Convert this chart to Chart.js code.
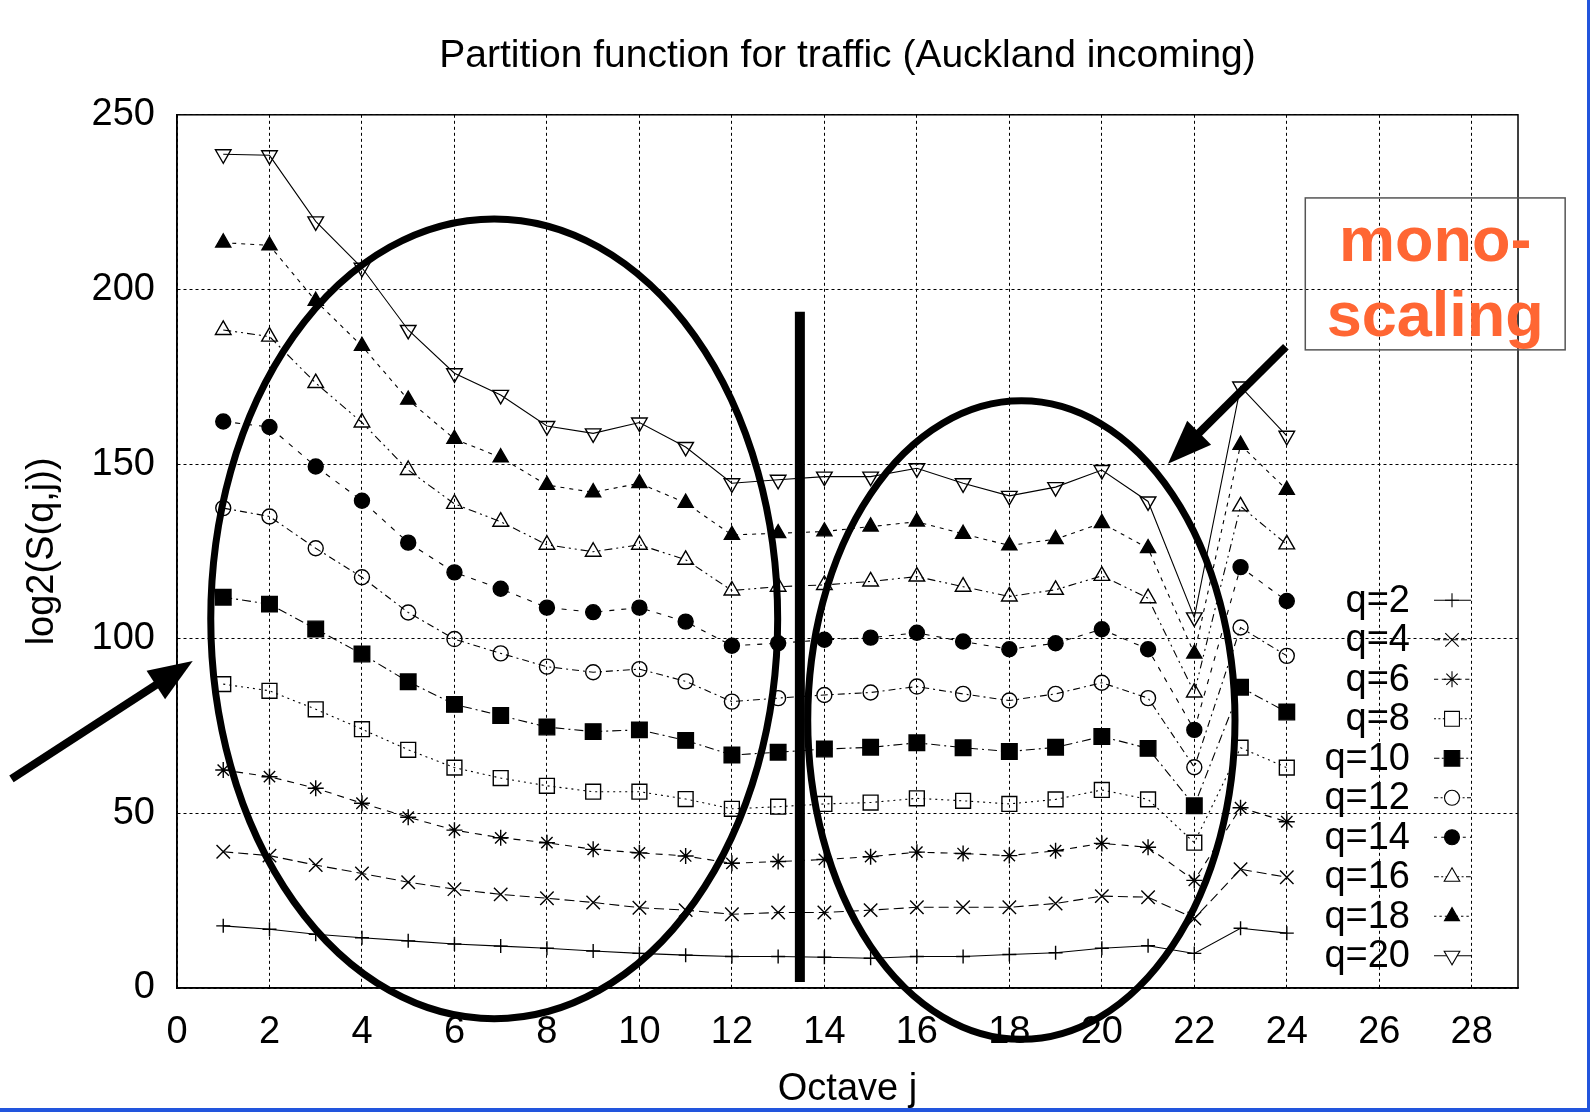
<!DOCTYPE html>
<html>
<head>
<meta charset="utf-8">
<title>Partition function for traffic (Auckland incoming)</title>
<script src="https://cdn.jsdelivr.net/npm/chart.js@4.4.1/dist/chart.umd.min.js"></script>
<style>
html, body { margin: 0; padding: 0; background: #fff; }
#wrap { position: relative; width: 1590px; height: 1112px; }
</style>
</head>
<body>
<div id="wrap"><canvas id="chart"></canvas></div>
<script>
// values
const octave = [1, 2, 3, 4, 5, 6, 7, 8, 9, 10, 11, 12, 13, 14, 15, 16, 17, 18, 19, 20, 21, 22, 23, 24];
const q2  = [17.8, 16.8, 15.4, 14.4, 13.5, 12.6, 12.0, 11.4, 10.6, 9.9, 9.4, 9.0, 9.0, 8.8, 8.5, 9.0, 9.0, 9.6, 10.1, 11.4, 12.1, 9.9, 17.1, 15.7];
const q4  = [39.0, 37.9, 35.2, 32.8, 30.3, 28.3, 26.8, 25.7, 24.5, 23.0, 22.3, 21.1, 21.6, 21.6, 22.3, 23.1, 23.1, 23.1, 24.2, 26.3, 26.0, 19.9, 34.0, 31.7];
const q6  = [62.4, 60.5, 57.2, 52.9, 48.9, 45.2, 43.0, 41.6, 39.7, 38.7, 37.8, 35.7, 36.2, 36.8, 37.6, 38.9, 38.5, 37.9, 39.3, 41.4, 40.3, 30.8, 51.6, 47.6];
const q8  = [87.0, 85.1, 79.8, 74.1, 68.2, 63.1, 60.1, 57.9, 56.2, 56.2, 54.1, 51.3, 51.9, 52.7, 53.1, 54.3, 53.6, 52.7, 54.0, 56.7, 54.0, 41.6, 68.8, 63.1];
const q10 = [111.9, 109.9, 102.8, 95.6, 87.7, 81.2, 78.0, 74.7, 73.4, 73.9, 70.9, 66.7, 67.5, 68.4, 68.9, 70.2, 68.8, 67.7, 68.9, 72.0, 68.6, 52.2, 86.1, 79.0];
const q12 = [137.4, 135.0, 125.9, 117.6, 107.5, 99.9, 95.8, 92.0, 90.4, 91.3, 87.8, 82.0, 83.0, 83.9, 84.6, 86.3, 84.2, 82.3, 84.2, 87.4, 83.0, 63.2, 103.2, 95.1];
const q14 = [162.2, 160.6, 149.3, 139.5, 127.5, 119.0, 114.3, 108.9, 107.6, 108.9, 104.9, 98.0, 98.7, 99.7, 100.3, 101.7, 99.2, 97.0, 98.7, 102.7, 97.0, 73.9, 120.5, 110.8];
const q16 = [188.4, 186.5, 173.2, 161.9, 148.3, 138.6, 133.5, 126.9, 124.9, 126.9, 122.6, 113.8, 114.9, 115.4, 116.4, 117.8, 114.9, 112.1, 114.0, 118.0, 111.6, 84.6, 137.9, 127.0];
const q18 = [213.4, 212.6, 196.7, 183.8, 168.4, 157.2, 151.9, 144.0, 141.9, 144.5, 138.9, 129.7, 130.2, 130.7, 132.1, 133.5, 130.0, 126.7, 128.5, 133.1, 125.9, 95.7, 155.5, 142.6];
const q20 = [238.7, 238.4, 219.5, 206.2, 188.4, 176.0, 169.8, 160.9, 158.8, 161.9, 154.9, 144.5, 145.5, 146.4, 146.4, 148.8, 144.5, 140.9, 143.4, 148.3, 139.3, 106.1, 172.2, 158.1];

const seriesNames = ['q=2', 'q=4', 'q=6', 'q=8', 'q=10', 'q=12', 'q=14', 'q=16', 'q=18', 'q=20'];
const seriesValues = [q2, q4, q6, q8, q10, q12, q14, q16, q18, q20];
const xTicks = [0, 2, 4, 6, 8, 10, 12, 14, 16, 18, 20, 22, 24, 26, 28];
const yTicks = [0, 50, 100, 150, 200, 250];

const FONT = '"Liberation Sans", Arial, Helvetica, sans-serif';
const INK = '#000';
const WHITE0 = 'rgba(255,255,255,0)';

// marker + dash look per series (gnuplot-like)
const looks = [
  { pointStyle: 'cross',    radius: 7,   fill: false, dash: [] },
  { pointStyle: 'crossRot', radius: 9.5, fill: false, dash: [10, 5] },
  { pointStyle: 'star',     radius: 8,   fill: false, dash: [7, 6] },
  { pointStyle: 'rect',     radius: 10.5,fill: false, dash: [2, 4] },
  { pointStyle: 'rect',     radius: 11,  fill: true,  dash: [9, 4, 2, 4] },
  { pointStyle: 'circle',   radius: 7.5, fill: false, dash: [7, 4, 2, 4] },
  { pointStyle: 'circle',   radius: 7.5, fill: true,  dash: [5, 7] },
  { pointStyle: 'triangle', radius: 9,   fill: false, dash: [8, 4, 2, 4, 2, 4] },
  { pointStyle: 'triangle', radius: 8.7, fill: true,  dash: [4, 5] },
  { pointStyle: 'triangle', radius: 9,   fill: false, dash: [], rotation: 180 }
];

const datasets = seriesNames.map((name, i) => ({
  label: name,
  data: octave.map((x, k) => ({ x, y: seriesValues[i][k] })),
  borderColor: INK,
  borderWidth: 1.1,
  borderDash: looks[i].dash,
  tension: 0,
  fill: false,
  pointStyle: looks[i].pointStyle,
  pointRotation: looks[i].rotation || 0,
  pointRadius: looks[i].radius,
  pointBorderWidth: 1.4,
  pointBorderColor: INK,
  pointBackgroundColor: looks[i].fill ? INK : WHITE0
}));

// hand-drawn annotations, in data units
const notes = {
  leftEllipse: { x: 6.86, y: 105.7, rx: 6.13, ry: 114.5 },
  rightEllipse: { x: 18.26, y: 76.7, rx: 4.62, ry: 91.4 },
  bar: { x: 13.47, y1: 193.6, y2: 1.7 },
  leftArrow: { x1: -3.58, y1: 59.9, x2: 0.34, y2: 93.6 },
  rightArrow: { x1: 23.98, y1: 183.6, x2: 21.43, y2: 150.1 },
  box: { x1: 24.4, y1: 226.2, x2: 30.02, y2: 182.7 }
};

function arrow(ctx, ax, ay, bx, by) {
  const ang = Math.atan2(by - ay, bx - ax);
  const head = 44, half = 17;
  const hx = bx - Math.cos(ang) * head, hy = by - Math.sin(ang) * head;
  ctx.lineWidth = 8;
  ctx.beginPath();
  ctx.moveTo(ax, ay);
  ctx.lineTo(hx + Math.cos(ang) * 4, hy + Math.sin(ang) * 4);
  ctx.stroke();
  ctx.beginPath();
  ctx.moveTo(bx, by);
  ctx.lineTo(hx + Math.sin(ang) * half, hy - Math.cos(ang) * half);
  ctx.lineTo(hx - Math.sin(ang) * half, hy + Math.cos(ang) * half);
  ctx.closePath();
  ctx.fill();
}

const overlay = {
  id: 'overlay',
  afterDatasetsDraw(chart) {
    const { ctx, chartArea: a } = chart;
    ctx.save();
    // plot frame
    ctx.strokeStyle = INK;
    ctx.lineWidth = 1.5;
    ctx.setLineDash([]);
    ctx.strokeRect(a.left, a.top, a.right - a.left, a.bottom - a.top);

    // legend inside the plot, text right-aligned, sample on the right
    ctx.font = '38px ' + FONT;
    ctx.textAlign = 'right';
    ctx.textBaseline = 'middle';
    const top = a.top + 485.5, step = 39.5;
    chart.data.datasets.forEach((ds, i) => {
      const y = top + i * step;
      ctx.fillStyle = INK;
      ctx.fillText(ds.label, a.right - 108, y + 1);
      ctx.lineWidth = 1.1;
      ctx.setLineDash(ds.borderDash.length ? ds.borderDash.map(v => Math.max(2, v * 0.6)) : []);
      ctx.beginPath();
      ctx.moveTo(a.right - 84, y);
      ctx.lineTo(a.right - 47, y);
      ctx.stroke();
      ctx.setLineDash([]);
      ctx.fillStyle = ds.pointBackgroundColor === INK ? INK : '#fff';
      ctx.strokeStyle = INK;
      Chart.helpers.drawPoint(ctx, {
        pointStyle: ds.pointStyle,
        rotation: ds.pointRotation,
        radius: ds.pointRadius,
        borderWidth: 1.4
      }, a.right - 66, y);
    });
    ctx.restore();
  },
  afterDraw(chart) {
    const { ctx } = chart;
    const X = v => chart.scales.x.getPixelForValue(v);
    const Y = v => chart.scales.y.getPixelForValue(v);
    ctx.save();
    ctx.strokeStyle = INK;
    ctx.fillStyle = INK;
    ctx.setLineDash([]);

    // ellipses
    ctx.lineWidth = 7;
    [notes.leftEllipse, notes.rightEllipse].forEach(e => {
      const cx = X(e.x), cy = Y(e.y);
      ctx.beginPath();
      ctx.ellipse(cx, cy, X(e.x + e.rx) - cx, cy - Y(e.y + e.ry), 0, 0, Math.PI * 2);
      ctx.stroke();
    });

    // separator bar
    ctx.lineWidth = 10;
    ctx.beginPath();
    ctx.moveTo(X(notes.bar.x), Y(notes.bar.y1));
    ctx.lineTo(X(notes.bar.x), Y(notes.bar.y2));
    ctx.stroke();

    // arrows
    [notes.leftArrow, notes.rightArrow].forEach(r => arrow(ctx, X(r.x1), Y(r.y1), X(r.x2), Y(r.y2)));

    // mono-scaling box
    const b = notes.box;
    ctx.strokeStyle = '#555';
    ctx.lineWidth = 1.5;
    ctx.strokeRect(X(b.x1), Y(b.y1), X(b.x2) - X(b.x1), Y(b.y2) - Y(b.y1));
    const mid = (X(b.x1) + X(b.x2)) / 2;
    ctx.fillStyle = '#ff6633';
    ctx.font = 'bold 63px ' + FONT;
    ctx.textAlign = 'center';
    ctx.textBaseline = 'alphabetic';
    ctx.fillText('mono-', mid, Y(b.y1) + 63);
    ctx.fillText('scaling', mid, Y(b.y1) + 138);

    // slide frame edges
    ctx.fillStyle = '#2255dd';
    ctx.fillRect(chart.width - 3, 0, 3, chart.height);
    ctx.fillRect(0, chart.height - 4, chart.width, 4);
    ctx.restore();
  }
};

const axisFont = { family: FONT, size: 38, weight: 'normal' };

new Chart(document.getElementById('chart'), {
  type: 'line',
  data: { datasets },
  plugins: [overlay],
  options: {
    animation: false,
    responsive: true,
    maintainAspectRatio: false,
    devicePixelRatio: 1,
    layout: { padding: { left: 0, right: 72, top: 0, bottom: 0 } },
    plugins: {
      legend: { display: false },
      tooltip: { enabled: false },
      title: {
        display: true,
        fullSize: false,
        text: 'Partition function for traffic (Auckland incoming)',
        color: INK,
        font: { family: FONT, size: 39, weight: 'normal' },
        padding: { top: 33, bottom: 35 }
      }
    },
    scales: {
      x: {
        type: 'linear',
        min: 0,
        max: 29,
        afterBuildTicks: (s) => { s.ticks = xTicks.map(v => ({ value: v })); },
        afterFit: (s) => { s.height = 124; },
        ticks: { color: INK, font: axisFont, padding: 22, maxRotation: 0, autoSkip: false },
        grid: { color: INK, lineWidth: 1, drawTicks: false },
        border: { display: true, color: INK, width: 1.5, dash: [3, 3] },
        title: { display: true, text: 'Octave j', color: INK, font: axisFont, padding: { top: 1, bottom: 0 } }
      },
      y: {
        min: 0,
        max: 250,
        afterBuildTicks: (s) => { s.ticks = yTicks.map(v => ({ value: v })); },
        afterFit: (s) => { s.width = 177; },
        ticks: { color: INK, font: axisFont, padding: 22 },
        grid: { color: INK, lineWidth: 1, drawTicks: false },
        border: { display: true, color: INK, width: 1.5, dash: [3, 3] },
        title: { display: true, text: 'log2(S(q,j))', color: INK, font: axisFont, padding: { top: 20, bottom: 0 } }
      }
    }
  }
});
</script>
</body>
</html>
